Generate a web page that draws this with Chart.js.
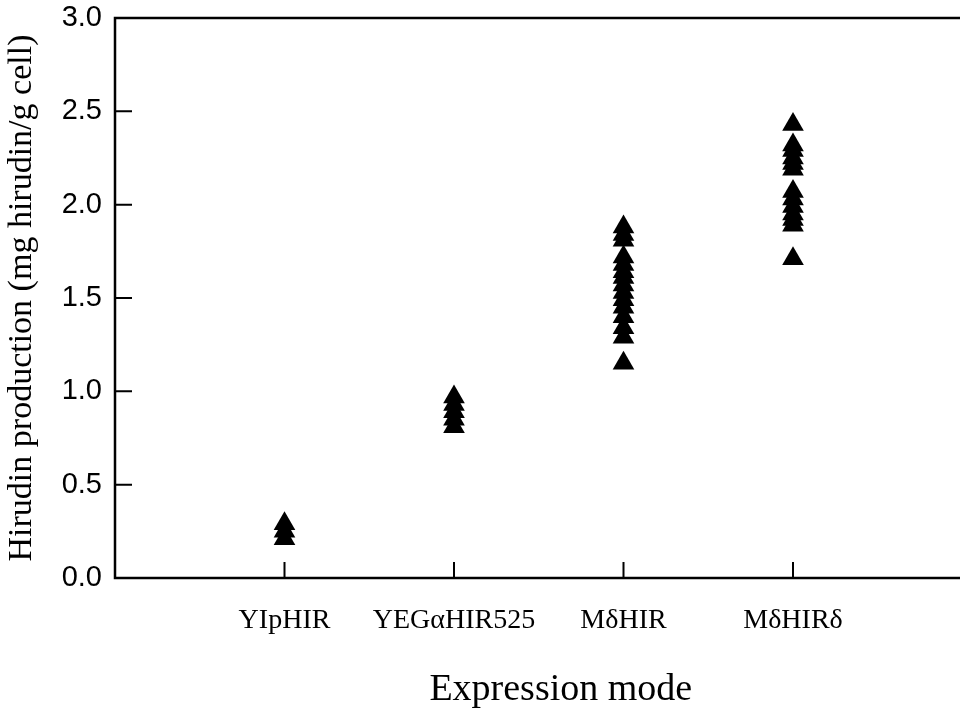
<!DOCTYPE html>
<html>
<head>
<meta charset="utf-8">
<script src="https://cdn.jsdelivr.net/npm/chart.js@4.4.1/dist/chart.umd.min.js"></script>
<style>
  html, body { margin: 0; padding: 0; background: #fff; overflow: hidden; }
  #wrap { width: 975px; height: 711px; }
</style>
</head>
<body>
<div id="wrap"><canvas id="chart"></canvas></div>
<script>
// categories on the x axis (placed at 1..4)
const CATEGORIES = ['YIpHIR', 'YEGαHIR525', 'MδHIR', 'MδHIRδ'];
const Y_TICKS = [0, 0.5, 1.0, 1.5, 2.0, 2.5, 3.0];
const X_TITLE = 'Expression mode';
const Y_TITLE = 'Hirudin production (mg hirudin/g cell)';

// hirudin production, mg hirudin / g cell
const VALUES_YIPHIR = [0.29, 0.25, 0.21];
const VALUES_YEGA = [0.97, 0.93, 0.89, 0.85, 0.81];
const VALUES_MDHIR = [1.88, 1.84, 1.81, 1.72, 1.68, 1.64, 1.61, 1.57, 1.53, 1.49, 1.45, 1.40, 1.34, 1.29, 1.15];
const VALUES_MDHIRD = [2.43, 2.32, 2.29, 2.25, 2.22, 2.19, 2.07, 2.03, 1.99, 1.95, 1.92, 1.89, 1.71];

const SERIES = [VALUES_YIPHIR, VALUES_YEGA, VALUES_MDHIR, VALUES_MDHIRD];

const points = [];
SERIES.forEach((vals, i) => {
  vals.forEach(v => points.push({ x: i + 1, y: v }));
});

// box around plot, inward tick marks, x title (sits a bit right of centre in the original)
const framePlugin = {
  id: 'frame',
  afterDraw(chart) {
    const { ctx, chartArea: a, scales: { x, y } } = chart;
    ctx.save();
    ctx.strokeStyle = '#000';
    ctx.lineWidth = 2.5;
    ctx.strokeRect(a.left, a.top, a.right - a.left, a.bottom - a.top);
    ctx.lineWidth = 2;
    ctx.beginPath();
    y.ticks.forEach(t => {
      const py = y.getPixelForValue(t.value);
      ctx.moveTo(a.left, py);
      ctx.lineTo(a.left + 17, py);
    });
    x.ticks.forEach(t => {
      const px = x.getPixelForValue(t.value);
      ctx.moveTo(px, a.bottom);
      ctx.lineTo(px, a.bottom - 16);
    });
    ctx.stroke();

    ctx.fillStyle = '#000';
    ctx.font = '38px "Liberation Serif", "Times New Roman", serif';
    ctx.textAlign = 'center';
    ctx.textBaseline = 'middle';
    ctx.fillText(X_TITLE, x.getPixelForValue(2.63), 690);
    ctx.restore();
  }
};

new Chart(document.getElementById('chart'), {
  type: 'scatter',
  data: {
    datasets: [{
      data: points,
      pointStyle: 'triangle',
      radius: 12.5,
      backgroundColor: '#000',
      borderColor: '#000',
      borderWidth: 0,
    }],
  },
  options: {
    responsive: true,
    maintainAspectRatio: false,
    animation: false,
    layout: { padding: { top: 18, right: 10, left: 0, bottom: 0 } },
    plugins: { legend: { display: false }, tooltip: { enabled: false } },
    scales: {
      x: {
        type: 'linear',
        min: 0,
        max: 5,
        grid: { display: false, drawTicks: false },
        border: { display: false },
        afterBuildTicks: s => { s.ticks = CATEGORIES.map((c, i) => ({ value: i + 1 })); },
        afterFit: s => { s.height = 133; s.paddingLeft = 0; s.paddingRight = 0; },
        ticks: {
          autoSkip: false,
          maxRotation: 0,
          padding: 26,
          color: '#000',
          font: { family: '"Liberation Serif", "Times New Roman", serif', size: 28 },
          callback: v => CATEGORIES[v - 1],
        },
      },
      y: {
        min: 0,
        max: 3,
        grid: { display: false, drawTicks: false },
        border: { display: false },
        afterBuildTicks: s => { s.ticks = Y_TICKS.map(v => ({ value: v })); },
        afterFit: s => { s.width = 115; s.paddingTop = 0; s.paddingBottom = 0; },
        ticks: {
          padding: 13,
          color: '#000',
          font: { family: '"Liberation Sans", Arial, sans-serif', size: 29 },
          callback: v => v.toFixed(1),
        },
        title: {
          display: true,
          text: Y_TITLE,
          color: '#000',
          padding: { top: 2, bottom: 0 },
          font: { family: '"Liberation Serif", "Times New Roman", serif', size: 34 },
        },
      },
    },
  },
  plugins: [framePlugin],
});
</script>
</body>
</html>
